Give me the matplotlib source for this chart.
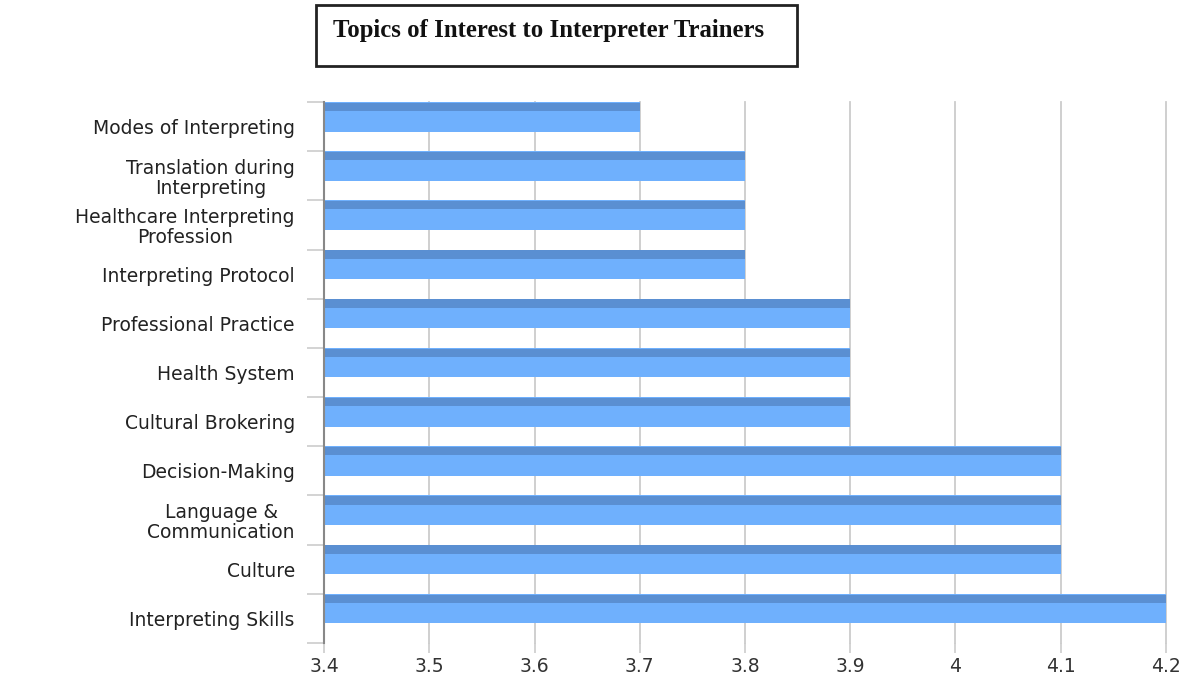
import matplotlib.pyplot as plt
from matplotlib.patches import Rectangle
from matplotlib.ticker import FuncFormatter

plt.rcParams['font.family'] = ['DejaVu Sans']

# topics, top to bottom as in the picture
topics = [
    'Modes of Interpreting',
    'Translation during\nInterpreting',
    'Healthcare Interpreting\nProfession',
    'Interpreting Protocol',
    'Professional Practice',
    'Health System',
    'Cultural Brokering',
    'Decision-Making',
    'Language &\nCommunication',
    'Culture',
    'Interpreting Skills',
]
scores = [3.7, 3.8, 3.8, 3.8, 3.9, 3.9, 3.9, 4.1, 4.1, 4.1, 4.2]
x_ticks = [3.4, 3.5, 3.6, 3.7, 3.8, 3.9, 4.0, 4.1, 4.2]

light_blue = '#6fb0fd'
dark_blue = '#5a8fd2'
grid_grey = '#cccccc'

fig = plt.figure(figsize=(12.02, 6.77), dpi=100)
ax = fig.add_axes([324 / 1202, 1 - 643 / 677, (1166 - 324) / 1202, (643 - 102) / 677])

pos = list(range(len(topics)))
# bar sits in the upper part of each row, darker strip on top
ax.barh([p - 0.2 for p in pos], scores, height=0.6, color=light_blue, zorder=2)
ax.barh([p - 0.4 for p in pos], scores, height=0.17, color=dark_blue, zorder=3)

ax.set_xlim(3.4, 4.2)
ax.set_ylim(len(topics) - 0.5, -0.5)

ax.set_xticks(x_ticks)
ax.xaxis.set_major_formatter(FuncFormatter(lambda v, _: f'{v:g}'))
ax.tick_params(axis='x', length=7, width=1.2, color=grid_grey, labelsize=13.5,
               labelcolor='#333333', pad=3)
ax.grid(axis='x', color=grid_grey, linewidth=1.3, zorder=0)
for gl in ax.get_xgridlines():
    gl.set_clip_on(False)

ax.set_yticks(pos)
ax.set_yticklabels(topics, multialignment='center', linespacing=1.05)
ax.tick_params(axis='y', which='major', length=0, labelsize=13.5, pad=21,
               labelcolor='#222222')
ax.set_yticks([p - 0.5 for p in pos] + [len(topics) - 0.5], minor=True)
ax.tick_params(axis='y', which='minor', length=12, width=1.2, color=grid_grey)

for side in ['top', 'right', 'bottom']:
    ax.spines[side].set_visible(False)
ax.spines['left'].set_color('#888888')
ax.spines['left'].set_linewidth(1.5)
ax.spines['left'].set_zorder(4)

# title in a box
fig.patches.append(Rectangle((316 / 1202, 1 - 66 / 677), (797 - 316) / 1202, 61 / 677,
                             transform=fig.transFigure, fill=False,
                             edgecolor='#222222', linewidth=2))
fig.text(333 / 1202, 1 - 31 / 677, 'Topics of Interest to Interpreter Trainers',
         family='Liberation Serif', fontweight='bold', fontsize=17.8,
         va='center', ha='left', color='#111111')

plt.savefig('out.png', dpi=100)
